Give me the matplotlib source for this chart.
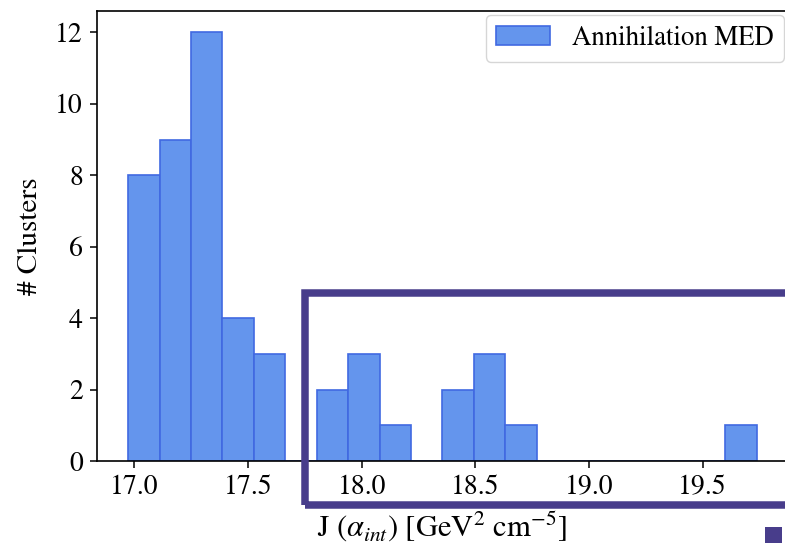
import numpy as np
import matplotlib
matplotlib.use('Agg')
import matplotlib.pyplot as plt
from matplotlib.patches import Rectangle


# number of clusters per J-factor bin (20 equal bins)
counts = [8, 9, 12, 4, 3, 0, 2, 3, 1, 0, 2, 3, 1, 0, 0, 0, 0, 0, 0, 1]
j_lo = 16.972
j_hi = 19.738
series_label = 'Annihilation MED'
box_color = '#483D8B'


def main():
    plt.rcParams['font.family'] = 'STIXGeneral'
    plt.rcParams['mathtext.fontset'] = 'stix'
    plt.rcParams['font.size'] = 20

    edges = np.linspace(j_lo, j_hi, len(counts) + 1)

    fig = plt.figure(figsize=(7.85, 5.43), dpi=100)
    ax = fig.add_axes([96.7 / 785, 1 - 461 / 543, (788 - 96.7) / 785, 450 / 543])
    ax.hist(edges[:-1], bins=edges, weights=counts, color='cornflowerblue',
            edgecolor='royalblue', linewidth=1.2, label=series_label)

    ax.set_xlabel(r'J ($\alpha_{int}$) [GeV$^2$ cm$^{-5}$]', fontsize=22, labelpad=7)
    ax.set_ylabel('# Clusters', fontsize=21, labelpad=9)
    ax.set_xticks([17.0, 17.5, 18.0, 18.5, 19.0, 19.5])
    ax.set_yticks([0, 2, 4, 6, 8, 10, 12])
    ax.tick_params(width=1.1, length=5, pad=5)
    for s in ax.spines.values():
        s.set_linewidth(1.2)
    ax.legend(loc='upper right', borderaxespad=0.15, fontsize=19.3)

    # highlight frame around the high-J tail
    fig.patches.append(Rectangle((304.5 / 785, 1 - 505 / 543), (787 - 304.5) / 785,
                                 (505 - 293) / 543, transform=fig.transFigure,
                                 fill=False, edgecolor=box_color, linewidth=5.4,
                                 zorder=10))
    fig.patches.append(Rectangle((765.3 / 785, -0.01), 16.4 / 785, 0.04,
                                 transform=fig.transFigure, facecolor=box_color,
                                 edgecolor='none', zorder=10))

    fig.savefig('out.png', dpi=100)


if __name__ == '__main__':
    main()
